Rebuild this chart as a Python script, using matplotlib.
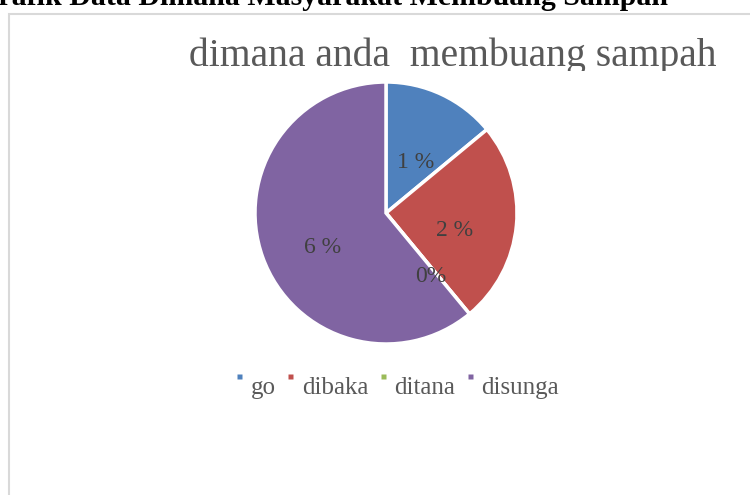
import matplotlib
matplotlib.use("Agg")
import matplotlib.pyplot as plt
from matplotlib.patches import Rectangle
from matplotlib.lines import Line2D
from matplotlib.path import Path
from matplotlib.transforms import offset_copy

categories = ["go", "dibaka", "ditana", "disunga"]
values = [14, 25, 0, 61]
data_labels = ["1 %", "2 %", "0%", "6 %"]
colors = ["#4F81BD", "#C0504D", "#9BBB59", "#8064A2"]
page_title = "Grafik Data Dimana Masyarakat Membuang Sampah"
chart_title = "dimana anda  membuang sampah"

W, H = 750, 495
fig = plt.figure(figsize=(W / 100, H / 100), dpi=100)
fig.patch.set_facecolor("white")

def fx(px):
    return px / W

def fy(py):
    return 1 - py / H

serif = ["Liberation Serif", "DejaVu Serif"]

# chart frame (extends past the right and bottom edges)
fig.patches.append(Rectangle((fx(8.5), fy(560)), fx(800), fy(13.5) - fy(560),
                             transform=fig.transFigure, fill=False,
                             edgecolor="#d9d9d9", linewidth=1.5, zorder=1))

# page caption (cut at top, as in the source image)
fig.text(fx(668), fy(5), page_title, ha="right", va="baseline",
         fontsize=21.5, fontweight="bold", family=serif, color="black")

# chart title
fig.text(fx(453), fy(66), chart_title, ha="center", va="baseline",
         fontsize=28.5, family=serif, color="#595959")

ax = fig.add_axes([fx(255), fy(344), fx(262), fy(82) - fy(344)])
wedges, texts = ax.pie(values, colors=colors, startangle=90, counterclock=False,
                       labels=data_labels, labeldistance=0.52,
                       wedgeprops=dict(edgecolor="white", linewidth=2.5),
                       textprops=dict(fontsize=17, family=serif, color="#404040"))
for t in texts:
    t.set_ha("center")
    t.set_va("center")
    t.set_transform(offset_copy(t.get_transform(), fig=fig, x=1, y=-11, units="dots"))
ax.set_xlim(-1, 1)
ax.set_ylim(-1, 1)
ax.set_aspect("equal")
ax.axis("off")

# legend with small raised square markers
sq = Path([(-0.2, 0.6), (0.2, 0.6), (0.2, 1.0), (-0.2, 1.0), (-0.2, 0.6)],
          [Path.MOVETO, Path.LINETO, Path.LINETO, Path.LINETO, Path.CLOSEPOLY])
handles = [Line2D([], [], linestyle="none", marker=sq, markersize=18,
                  markerfacecolor=c, markeredgecolor="none") for c in colors]
leg = fig.legend(handles, categories, ncol=4, loc="center",
                 bbox_to_anchor=(fx(396), fy(388)), frameon=False,
                 handlelength=0.5, handletextpad=0.2, columnspacing=0.35,
                 prop=dict(family=serif, size=18))
for t in leg.get_texts():
    t.set_color("#595959")

# cropping of the source image (bottom of title and legend cut)
fig.patches.append(Rectangle((fx(150), fy(78)), fx(600), fy(70.5) - fy(78),
                             transform=fig.transFigure, facecolor="white",
                             edgecolor="none", zorder=20))
fig.patches.append(Rectangle((fx(200), fy(406)), fx(420), fy(398.5) - fy(406),
                             transform=fig.transFigure, facecolor="white",
                             edgecolor="none", zorder=20))

fig.savefig("out.png", dpi=100, facecolor="white")
